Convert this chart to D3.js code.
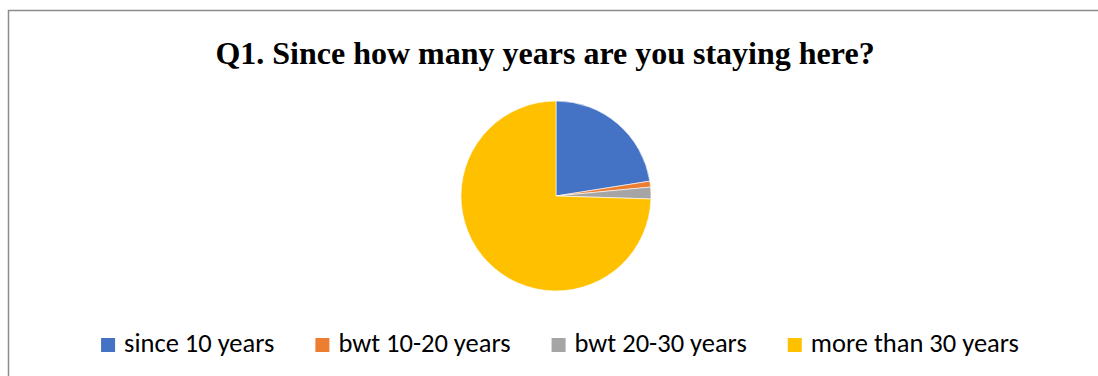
<!DOCTYPE html>
<html>
<head>
<meta charset="utf-8">
<script src="https://cdn.jsdelivr.net/npm/d3@7"></script>
<style>
  html, body { margin: 0; padding: 0; background: #fff; }
  svg { display: block; }
</style>
</head>
<body>
<svg id="chart" width="1098" height="376"></svg>
<script>
// Survey responses, Q1
const titleText = "Q1. Since how many years are you staying here?";
const categories = ["since 10 years", "bwt 10-20 years", "bwt 20-30 years", "more than 30 years"];
const counts = [45, 2, 4, 149];
const colors = ["#4472C4", "#ED7D31", "#A5A5A5", "#FFC000"];

const W = 1098, H = 376;
const svg = d3.select("#chart");

// chart frame
svg.append("rect")
  .attr("x", 8.5).attr("y", 10.5)
  .attr("width", W + 10).attr("height", H + 10)
  .attr("fill", "#fff")
  .attr("stroke", "#8c8c8c")
  .attr("stroke-width", 1.5);

// title
svg.append("text")
  .attr("x", 545).attr("y", 64)
  .attr("text-anchor", "middle")
  .attr("font-family", "'Liberation Serif', 'Times New Roman', serif")
  .attr("font-weight", "bold")
  .attr("font-size", 32)
  .attr("fill", "#000")
  .text(titleText);

// pie
const cx = 556, cy = 196, r = 95;
const data = categories.map((c, i) => ({ name: c, value: counts[i], color: colors[i] }));
const pie = d3.pie().value(d => d.value).sort(null);
const arc = d3.arc().innerRadius(0).outerRadius(r);

svg.append("g")
  .attr("transform", `translate(${cx},${cy})`)
  .selectAll("path")
  .data(pie(data))
  .join("path")
  .attr("d", arc)
  .attr("fill", d => d.data.color)
  .attr("stroke", "#fff")
  .attr("stroke-width", 0.6);

// legend
const legend = svg.append("g");
const fontFamily = "Carlito, Lato, 'Open Sans', sans-serif";
const fs = 26.5, sw = 14, gapText = 9, gapItem = 41;
const items = legend.selectAll("g").data(data).join("g");
items.append("rect")
  .attr("width", sw).attr("height", sw)
  .attr("y", -sw)
  .attr("fill", d => d.color);
items.append("text")
  .attr("x", sw + gapText)
  .attr("y", 0)
  .attr("font-family", fontFamily)
  .attr("font-size", fs)
  .attr("fill", "#000")
  .text(d => d.name);

let xpos = 0;
items.each(function () {
  const g = d3.select(this);
  g.attr("transform", `translate(${xpos},0)`);
  const w = g.select("text").node().getComputedTextLength();
  xpos += sw + gapText + w + gapItem;
});
const total = xpos - gapItem;
legend.attr("transform", `translate(${560 - total / 2},352)`);
</script>
</body>
</html>
